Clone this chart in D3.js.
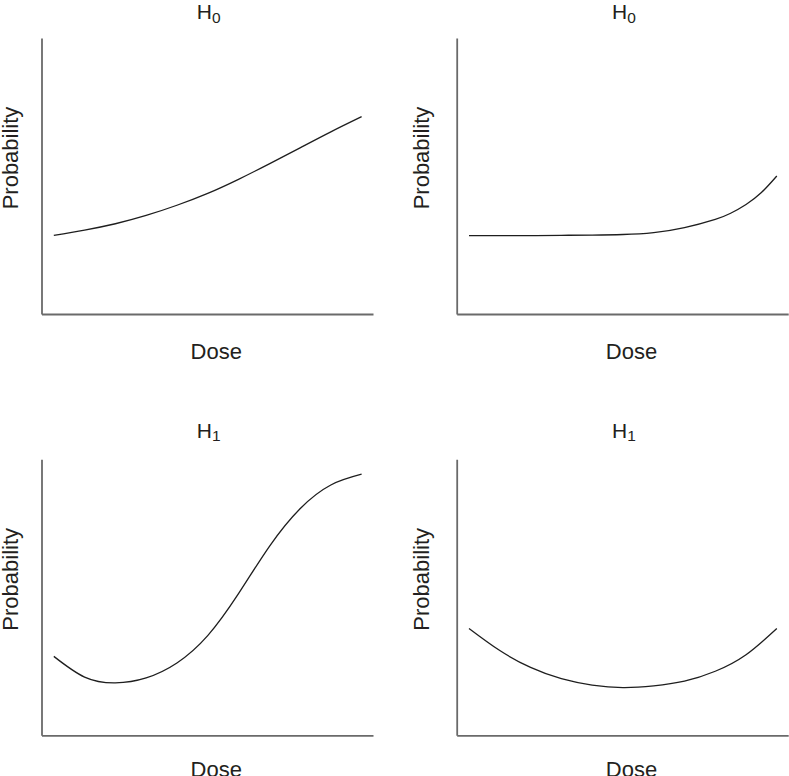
<!DOCTYPE html>
<html>
<head>
<meta charset="utf-8">
<script src="https://cdn.jsdelivr.net/npm/d3@7"></script>
<style>
  html, body { margin: 0; padding: 0; background: #fff; }
  svg { display: block; }
  text { font-family: "Liberation Sans", Arial, Helvetica, sans-serif; fill: #231f20; }
</style>
</head>
<body>
<svg id="chart" width="789" height="776"></svg>
<script>
// ---- data ----
const doses = [0, 0.1, 0.2, 0.3, 0.4, 0.5, 0.6, 0.7, 0.8, 0.9, 1.0];
const thresholdDoses = [0, 0.1, 0.2, 0.3, 0.4, 0.5, 0.6, 0.7, 0.8, 0.85, 0.9, 0.95, 1.0];
const h0GradualValues = [0.285, 0.304, 0.327, 0.357, 0.394, 0.437, 0.488, 0.544, 0.602, 0.660, 0.715];
const h0ThresholdValues = [0.284, 0.284, 0.284, 0.285, 0.286, 0.288, 0.295, 0.313, 0.343, 0.365, 0.397, 0.440, 0.500];
const h1SigmoidValues = [0.286, 0.211, 0.190, 0.208, 0.262, 0.361, 0.513, 0.684, 0.821, 0.907, 0.946];
const h1UShapeValues = [0.387, 0.307, 0.246, 0.205, 0.182, 0.173, 0.179, 0.196, 0.232, 0.292, 0.387];
const titleBase = ["H", "H", "H", "H"];
const titleSub = ["0", "0", "1", "1"];
const xLabel = "Dose";
const yLabel = "Probability";

const series = [
  { x: doses, v: h0GradualValues },
  { x: thresholdDoses, v: h0ThresholdValues },
  { x: doses, v: h1SigmoidValues },
  { x: doses, v: h1UShapeValues }
];

// ---- layout ----
const colX = [41.5, 456.7];
const rowY = [38, 459.3];
const plotW = 331.5, plotH = 276;
const titleY = [19, 437.5];
const doseY = [359, 777];
const probX = [17.5, 429];

const svg = d3.select("#chart");

const x = d3.scaleLinear().domain([-0.04, 1.037]).range([0, plotW]);
const y = d3.scaleLinear().domain([0, 1]).range([plotH, 0]);

series.forEach((s, k) => {
  const col = k % 2, row = Math.floor(k / 2);
  const g = svg.append("g").attr("transform", `translate(${colX[col]},${rowY[row]})`);

  const yAxis = g.append("g").call(d3.axisLeft(y).tickValues([]).tickSizeOuter(0));
  const xAxis = g.append("g").attr("transform", `translate(0,${plotH})`)
    .call(d3.axisBottom(x).tickValues([]).tickSizeOuter(0));
  [yAxis, xAxis].forEach(a => a.select(".domain").attr("stroke", "#6a6a6a").attr("stroke-width", 1.8));

  const line = d3.line()
    .x((d, i) => x(s.x[i]))
    .y(d => y(d))
    .curve(d3.curveNatural);

  g.append("path")
    .datum(s.v)
    .attr("d", line)
    .attr("fill", "none")
    .attr("stroke", "#1e1e1e")
    .attr("stroke-width", 1.3);

  // title with subscript
  const t = svg.append("text")
    .attr("x", colX[col] + plotW / 2 + 1.5)
    .attr("y", titleY[row])
    .attr("text-anchor", "middle")
    .attr("font-size", 21);
  t.append("tspan").text(titleBase[k]);
  t.append("tspan").attr("font-size", 15.5).attr("dy", 3.5).text(titleSub[k]);

  svg.append("text")
    .attr("x", colX[col] + plotW / 2 + 9)
    .attr("y", doseY[row])
    .attr("text-anchor", "middle")
    .attr("font-size", 22)
    .text(xLabel);

  const cy = rowY[row] + plotH / 2 - 18;
  svg.append("text")
    .attr("transform", `translate(${probX[col]},${cy}) rotate(-90)`)
    .attr("text-anchor", "middle")
    .attr("font-size", 22)
    .text(yLabel);
});
</script>
</body>
</html>
